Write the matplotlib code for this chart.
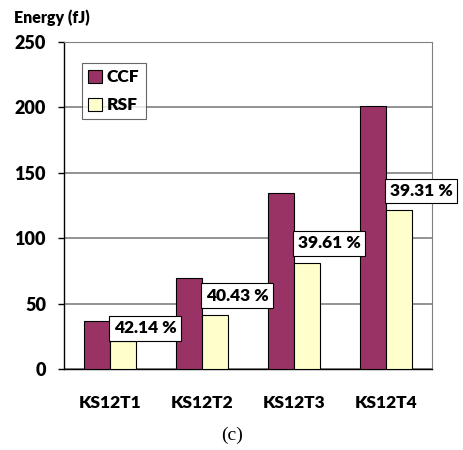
import numpy as np
import matplotlib
matplotlib.use('Agg')
import matplotlib.pyplot as plt
from matplotlib.patches import Patch

plt.rcParams['font.family'] = ['Lato', 'DejaVu Sans']

# Data.
categories = ['KS12T1', 'KS12T2', 'KS12T3', 'KS12T4']
ccf = [36.5, 69.3, 134.8, 200.8]
rsf = [21.1, 41.3, 81.3, 121.8]
savings = ['42.14 %', '40.43 %', '39.61 %', '39.31 %']
label_y = [31, 56, 96, 136]  # where the saving boxes sit

ccf_col = '#993366'
rsf_col = '#ffffcc'
grid_col = '#808080'
fs = 12.5

fig = plt.figure(figsize=(4.64, 4.50), dpi=100)
ax = fig.add_axes([0.138, 0.18, 0.793, 0.727])

x = np.arange(len(categories))
w = 0.28
ax.bar(x - w/2, ccf, w, color=ccf_col, edgecolor='black', linewidth=0.8, zorder=3)
ax.bar(x + w/2, rsf, w, color=rsf_col, edgecolor='black', linewidth=0.8, zorder=3)

for i in range(len(categories)):
    ax.text(i + 0.04, label_y[i], savings[i], ha='left', va='center',
            fontsize=fs, fontweight='heavy', zorder=5, clip_on=False,
            bbox=dict(boxstyle='square,pad=0.25', facecolor='white',
                      edgecolor='black', linewidth=0.8))

ax.set_xlim(-0.5, 3.5)
ax.set_ylim(0, 250)
ax.set_yticks([0, 50, 100, 150, 200, 250])
ax.yaxis.grid(True, color=grid_col, linewidth=1.2, zorder=0)
ax.set_axisbelow(True)
ax.set_xticks(x)
ax.set_xticklabels(categories, fontweight='heavy', fontsize=fs)
for lab in ax.get_yticklabels():
    lab.set_fontweight('heavy')
    lab.set_fontsize(fs + 0.5)
ax.tick_params(axis='x', length=0, pad=19)
ax.tick_params(axis='y', length=4, width=1, pad=9, direction='out')

ax.spines['left'].set_color('black')
ax.spines['bottom'].set_color('black')
ax.spines['left'].set_linewidth(1)
ax.spines['bottom'].set_linewidth(1)
ax.spines['top'].set_color(grid_col)
ax.spines['right'].set_color(grid_col)

handles = [Patch(facecolor=ccf_col, edgecolor='black', linewidth=0.8, label='CCF'),
           Patch(facecolor=rsf_col, edgecolor='black', linewidth=0.8, label='RSF')]
leg = ax.legend(handles=handles, loc='upper left', bbox_to_anchor=(0.048, 0.935),
                frameon=True, fancybox=False, edgecolor='#404040', handlelength=0.8,
                handleheight=0.8, handletextpad=0.3, borderpad=0.35, labelspacing=0.7,
                borderaxespad=0, prop={'weight': 'heavy', 'size': fs})
leg.get_frame().set_linewidth(0.8)

fig.text(0.03, 0.96, 'Energy (fJ)', fontsize=fs - 1, fontweight='heavy', va='center')
fig.text(0.5, 0.032, '(c)', fontsize=14, family='Liberation Serif', ha='center', va='center')

fig.savefig('out.png', dpi=100, facecolor='white')
